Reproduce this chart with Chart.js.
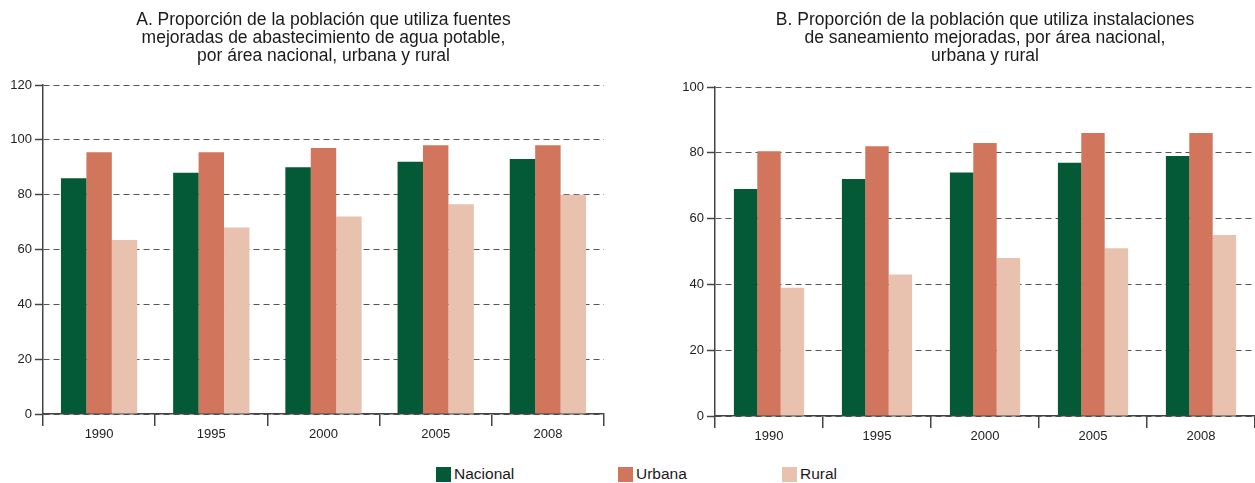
<!DOCTYPE html>
<html>
<head>
<meta charset="utf-8">
<script src="https://cdn.jsdelivr.net/npm/chart.js@4"></script>
<style>
  body { margin: 0; background: #fff; width: 1255px; height: 483px; position: relative; overflow: hidden; font-family: "Liberation Sans", Arial, sans-serif; }
  .box { position: absolute; top: 0; height: 450px; }
  #boxA { left: 0; width: 620px; }
  #boxB { left: 640px; width: 615px; }
  .legend-item { position: absolute; top: 465px; display: flex; align-items: center; font-size: 15.5px; color: #1a1a1a; }
  .legend-item span.sw { display: inline-block; width: 15px; height: 15px; margin-right: 3px; }
</style>
</head>
<body>
<div class="box" id="boxA"><canvas id="chartA"></canvas></div>
<div class="box" id="boxB"><canvas id="chartB"></canvas></div>

<div class="legend-item" style="left:436px"><span class="sw" style="background:#045a37"></span>Nacional</div>
<div class="legend-item" style="left:618px"><span class="sw" style="background:#d1755d"></span>Urbana</div>
<div class="legend-item" style="left:782px"><span class="sw" style="background:#e9c1af"></span>Rural</div>

<script>
// categories
const years = ['1990', '1995', '2000', '2005', '2008'];

// A. agua potable
const aguaNacional = [86, 88, 90, 92, 93];
const aguaUrbana = [95.5, 95.5, 97, 98, 98];
const aguaRural = [63.5, 68, 72, 76.5, 80];

// B. saneamiento
const saneNacional = [69, 72, 74, 77, 79];
const saneUrbana = [80.5, 82, 83, 86, 86];
const saneRural = [39, 43, 48, 51, 55];

const titleA = ['A. Proporción de la población que utiliza fuentes', 'mejoradas de abastecimiento de agua potable,', 'por área nacional, urbana y rural'];
const titleB = ['B. Proporción de la población que utiliza instalaciones', 'de saneamiento mejoradas, por área nacional,', 'urbana y rural'];

const colors = { nacional: '#045a37', urbana: '#d1755d', rural: '#e9c1af' };
const FONT = '"Liberation Sans", Arial, sans-serif';

Chart.defaults.font.family = FONT;
Chart.defaults.color = '#222';

function makeChart(id, title, nac, urb, rur, opts) {
    const ctx = document.getElementById(id);
    return new Chart(ctx, {
        type: 'bar',
        data: {
            labels: years,
            datasets: [
                { label: 'Nacional', data: nac, backgroundColor: colors.nacional },
                { label: 'Urbana', data: urb, backgroundColor: colors.urbana },
                { label: 'Rural', data: rur, backgroundColor: colors.rural }
            ]
        },
        options: {
            responsive: true,
            maintainAspectRatio: false,
            animation: false,
            datasets: {
                bar: { barPercentage: 1, categoryPercentage: opts.catPct }
            },
            layout: { padding: { left: 0, right: opts.padRight, top: 0, bottom: 0 } },
            plugins: {
                legend: { display: false },
                tooltip: { enabled: false },
                title: {
                    display: true,
                    fullSize: false, // center the title over the plot area
                    text: title,
                    color: '#1a1a1a',
                    font: { size: 17.5, weight: 'normal', family: FONT, lineHeight: '18px' },
                    padding: { top: 11, bottom: opts.titleBottom }
                }
            },
            scales: {
                x: {
                    grid: {
                        display: true,
                        offset: true,
                        drawOnChartArea: false,
                        tickLength: 12,
                        tickColor: '#444',
                        lineWidth: 1.5
                    },
                    border: { display: true, color: '#444', width: 1.5 },
                    ticks: { font: { size: 13 }, padding: 1, color: '#222' },
                    afterFit: (scale) => { scale.height = opts.xHeight; }
                },
                y: {
                    min: 0,
                    max: opts.max,
                    ticks: { stepSize: 20, font: { size: 13 }, padding: 3, color: '#222' },
                    grid: {
                        color: '#555',
                        lineWidth: 1,
                        tickBorderDash: [],
                        tickLength: 8,
                        tickColor: '#444',
                        tickWidth: 1.5
                    },
                    // in v4 the grid line dash comes from border.dash
                    border: { display: true, color: '#444', width: 1.5, dash: [6, 4] },
                    afterFit: (scale) => { scale.width = opts.yWidth; }
                }
            }
        }
    });
}

makeChart('chartA', titleA, aguaNacional, aguaUrbana, aguaRural,
    { max: 120, catPct: 0.68, padRight: 16, titleBottom: 20, xHeight: 36, yWidth: 43 });
makeChart('chartB', titleB, saneNacional, saneUrbana, saneRural,
    { max: 100, catPct: 0.65, padRight: 0, titleBottom: 22, xHeight: 34, yWidth: 75 });
</script>
</body>
</html>
